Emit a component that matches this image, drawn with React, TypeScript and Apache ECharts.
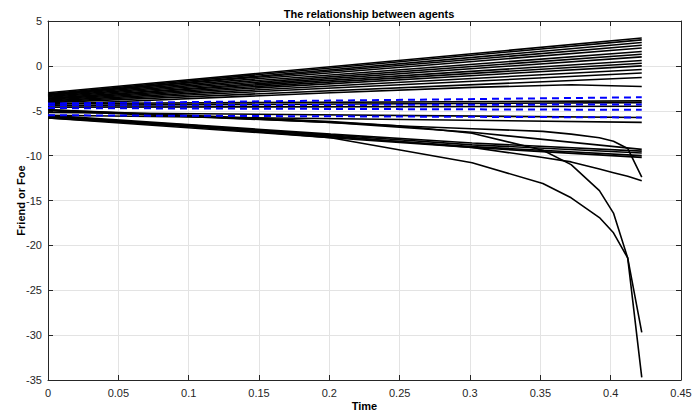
import React, { useEffect, useRef } from "react";
import * as echarts from "echarts";

// x tick labels 0 .. 0.45, y tick labels -35 .. 5
const X_MIN = 0;
const X_MAX = 0.45;
const X_STEP = 0.05;
const Y_MIN = -35;
const Y_MAX = 5;
const Y_STEP = 5;

const T_END = 0.4221;

// Nearly straight lines rising to the top group (start at t=0, end at t=T_END)
const topStarts = [-3.0, -3.1, -3.2, -3.2, -3.3, -3.4, -3.5, -3.6, -3.6, -3.7, -3.8, -3.9, -4.0, -4.1];
const topEnds = [3.1, 2.9, 2.6, 2.3, 2.0, 1.6, 1.3, 1.0, 0.6, 0.3, 0.0, -0.4, -0.8, -1.3];

// Nearly flat black lines in the middle band
const midStarts = [-4.2, -4.4, -4.6, -5.2, -5.5];
const midEnds = [-3.9, -4.1, -4.5, -5.75, -6.3];

// Blue dashed lines
const blueStarts = [-4.2, -4.4, -4.7, -5.5];
const blueEnds = [-3.5, -4.3, -4.9, -5.75];

// Slightly bending line ending near -2.3
const bendT = [0, 0.201, 0.3015, 0.3719, 0.4221];
const bendLine = [-4.3, -3.0, -2.4, -2.1, -2.3];

// Descending cluster ending around -9.3 .. -10.2
const clusterT = [0, 0.201, 0.3015, 0.4221];
const cluster1 = [-5.5, -7.6, -8.6, -9.5];
const cluster2 = [-5.6, -7.7, -8.8, -9.7];
const cluster3 = [-5.7, -7.9, -9.0, -10.0];
const cluster4 = [-5.8, -8.0, -9.1, -10.2];
const cluster5 = [-5.0, -6.3, -7.4, -9.3];

// Curved lines that dive at the end
const curveT = [0, 0.1005, 0.201, 0.2513, 0.3015, 0.3518, 0.3719, 0.392, 0.402, 0.4121, 0.4221];
const curveA = [-4.9, -5.5, -6.2, -6.7, -7.5, -9.4, -11.0, -13.9, -16.4, -21.4, -29.7];
const curveB = [-5.8, -6.7, -8.0, -9.4, -10.8, -13.1, -14.7, -16.9, -18.6, -21.4, -34.7];
const curveC1 = [-5.7, -6.6, -7.8, -8.45, -9.1, -10.2, -10.7, -11.5, -11.9, -12.3, -12.8];
const curveC2 = [-4.9, -5.6, -6.3, -6.7, -7.0, -7.3, -7.6, -8.0, -8.4, -9.2, -12.4];

const FONT = "'Liberation Sans', Arial, Helvetica, sans-serif";
const AX = "#262626";

export default function App() {
  const ref = useRef<HTMLDivElement>(null);

  useEffect(() => {
    if (!ref.current) return;
    const chart = echarts.init(ref.current, null, { renderer: "svg" });

    const black = (data: number[][]) => ({
      type: "line",
      data,
      showSymbol: false,
      symbol: "none",
      lineStyle: { color: "#000000", width: 1.6 },
      silent: true,
    });
    const blue = (data: number[][]) => ({
      type: "line",
      data,
      showSymbol: false,
      symbol: "none",
      lineStyle: { color: "#0000ff", width: 2, type: [7, 5] },
      silent: true,
    });

    const series: any[] = [];
    topStarts.forEach((s, i) => series.push(black([[0, s], [T_END, topEnds[i]]])));
    midStarts.forEach((s, i) => series.push(black([[0, s], [T_END, midEnds[i]]])));
    series.push(black(bendT.map((t, i) => [t, bendLine[i]])));
    [cluster1, cluster2, cluster3, cluster4, cluster5].forEach((c) =>
      series.push(black(clusterT.map((t, i) => [t, c[i]])))
    );
    [curveA, curveB, curveC1, curveC2].forEach((c) =>
      series.push(black(curveT.map((t, i) => [t, c[i]])))
    );
    blueStarts.forEach((s, i) => series.push(blue([[0, s], [T_END, blueEnds[i]]])));

    const axisCommon = {
      axisLine: { show: true, onZero: false, lineStyle: { color: AX, width: 1 } },
      axisTick: { show: true, inside: true, length: 5, lineStyle: { color: AX } },
    };

    chart.setOption({
      animation: false,
      backgroundColor: "#ffffff",
      title: {
        text: "The relationship between agents",
        left: 364,
        top: 3,
        textAlign: "center",
        textStyle: { fontFamily: FONT, fontSize: 11, fontWeight: "bold", color: "#000" },
      },
      grid: { left: 48, right: 11, top: 21, bottom: 34, containLabel: false, outerBoundsMode: "none" },
      xAxis: [
        {
          type: "value",
          min: X_MIN,
          max: X_MAX,
          interval: X_STEP,
          position: "bottom",
          ...axisCommon,
          axisLabel: { color: AX, fontFamily: FONT, fontSize: 11, margin: 7 },
          splitLine: { show: true, lineStyle: { color: "#e3e3e3", width: 1 } },
          name: "Time",
          nameLocation: "middle",
          nameGap: 20,
          nameMoveOverlap: false,
          nameTextStyle: { fontFamily: FONT, fontSize: 11, fontWeight: "bold", color: "#000" },
        },
        {
          type: "value",
          min: X_MIN,
          max: X_MAX,
          interval: X_STEP,
          position: "top",
          ...axisCommon,
          axisLabel: { show: false },
          splitLine: { show: false },
        },
      ],
      yAxis: [
        {
          type: "value",
          min: Y_MIN,
          max: Y_MAX,
          interval: Y_STEP,
          position: "left",
          ...axisCommon,
          axisLabel: { color: AX, fontFamily: FONT, fontSize: 11, margin: 6 },
          splitLine: { show: true, lineStyle: { color: "#e3e3e3", width: 1 } },
          name: "Friend or Foe",
          nameLocation: "middle",
          nameGap: 22,
          nameMoveOverlap: false,
          nameTextStyle: { fontFamily: FONT, fontSize: 11, fontWeight: "bold", color: "#000" },
        },
        {
          type: "value",
          min: Y_MIN,
          max: Y_MAX,
          interval: Y_STEP,
          position: "right",
          ...axisCommon,
          axisLabel: { show: false },
          splitLine: { show: false },
        },
      ],
      series,
    });

    return () => chart.dispose();
  }, []);

  return (
    <div
      ref={ref}
      style={{ position: "absolute", left: 0, top: 0, width: 692, height: 414 }}
    />
  );
}
